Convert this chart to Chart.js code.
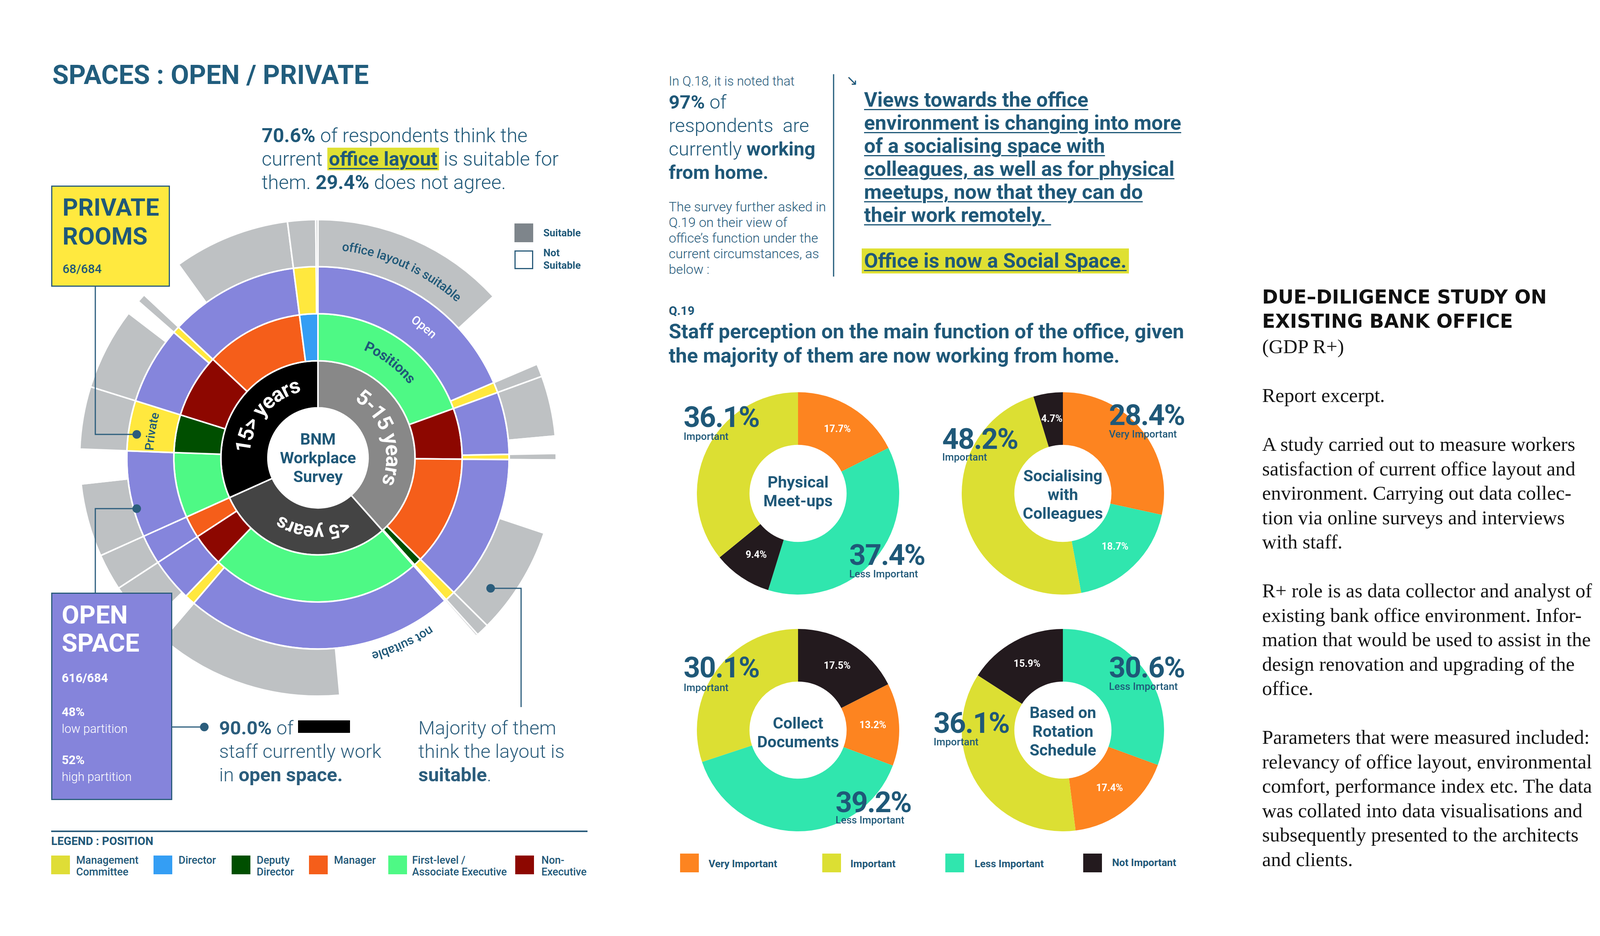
<!DOCTYPE html>
<html>
<head>
<meta charset="utf-8">
<title>Spaces : Open / Private</title>
<script src="https://cdn.jsdelivr.net/npm/chart.js@4.4.1/dist/chart.umd.min.js"></script>
<style>
  html, body { margin: 0; padding: 0; background: #fff; }
  body { width: 4167px; height: 2396px; position: relative; overflow: hidden;
         font-family: Roboto, 'Liberation Sans', sans-serif; color: #1f5878; }
  b { font-weight: 700; }
  .t { position: absolute; white-space: nowrap; z-index: 4; }
  .light { font-weight: 300; }
  .hl { background: #dfe033; padding: 0 4px; }
  .box { position: absolute; box-sizing: border-box; border: 3px solid #2b5d7c; }
  .chartbox { position: absolute; }
  .sq { position: absolute; width: 48px; height: 48px; }
  u { text-decoration-thickness: 3px; text-underline-offset: 6px; }
  .serif { font-family: 'Liberation Serif', 'DejaVu Serif', serif; color: #141414; }
</style>
</head>
<body>

<!-- left: open / private -->
<div class="t" style="left:134px;top:158px;font-size:68px;line-height:68px;font-weight:700;color:#215d7d;">SPACES : OPEN / PRIVATE</div>
<div class="t light" style="left:670px;top:317px;font-size:50px;line-height:60px;">
<b>70.6%</b> of respondents think the<br>current <span class="hl"><b><u>office layout</u></b></span> is suitable for<br>them. <b>29.4%</b> does not agree.</div>

<div class="box" style="left:131px;top:475px;width:304px;height:259px;background:#ffe93f;z-index:3;"></div>
<div class="t" style="left:160px;top:494px;font-size:62px;line-height:74px;font-weight:700;">PRIVATE<br>ROOMS</div>
<div class="t" style="left:160px;top:671px;font-size:31px;line-height:36px;font-weight:500;">68/684</div>

<div class="box" style="left:131px;top:1517px;width:310px;height:531px;background:#8584db;z-index:3;"></div>
<div class="t" style="left:158px;top:1538px;font-size:65px;line-height:72px;font-weight:700;color:#fff;">OPEN<br>SPACE</div>
<div class="t" style="left:158px;top:1718px;font-size:31px;line-height:36px;font-weight:700;color:#fff;">616/684</div>
<div class="t" style="left:158px;top:1801px;font-size:31px;line-height:43px;color:#fff;"><b>48%</b><br><span class="light">low partition</span></div>
<div class="t" style="left:158px;top:1924px;font-size:31px;line-height:43px;color:#fff;"><b>52%</b><br><span class="light">high partition</span></div>

<div class="t light" style="left:561px;top:1834px;font-size:49px;line-height:60px;color:#2b5d7c;">
<b>90.0%</b> of <span style="display:inline-block;width:133px;height:32px;background:#000;vertical-align:4px;"></span><br>staff currently work<br>in <b>open space.</b></div>
<div class="t light" style="left:1071px;top:1834px;font-size:49px;line-height:60px;color:#2b5d7c;">
Majority of them<br>think the layout is<br><b>suitable</b>.</div>

<div class="sq" style="left:1317px;top:572px;background:#7e858b;"></div>
<div class="t" style="left:1391px;top:581px;font-size:26px;line-height:30px;font-weight:700;">Suitable</div>
<div class="sq" style="left:1317px;top:641px;border:3px solid #2b5d7c;box-sizing:border-box;"></div>
<div class="t" style="left:1391px;top:631px;font-size:26px;line-height:32px;font-weight:700;">Not<br>Suitable</div>

<div class="t" style="left:131px;top:2137px;font-size:29px;line-height:32px;font-weight:700;">LEGEND : POSITION</div>
<div class="sq" style="left:131px;top:2190px;background:#dfdd36;"></div>
<div class="t" style="left:195px;top:2187px;font-size:27px;line-height:30px;font-weight:500;">Management<br>Committee</div>
<div class="sq" style="left:393px;top:2190px;background:#349ef4;"></div>
<div class="t" style="left:457px;top:2187px;font-size:27px;line-height:30px;font-weight:500;">Director</div>
<div class="sq" style="left:593px;top:2190px;background:#004f00;"></div>
<div class="t" style="left:657px;top:2187px;font-size:27px;line-height:30px;font-weight:500;">Deputy<br>Director</div>
<div class="sq" style="left:791px;top:2190px;background:#f55e1a;"></div>
<div class="t" style="left:855px;top:2187px;font-size:27px;line-height:30px;font-weight:500;">Manager</div>
<div class="sq" style="left:994px;top:2190px;background:#4ef985;"></div>
<div class="t" style="left:1055px;top:2187px;font-size:27px;line-height:30px;font-weight:500;">First-level /<br>Associate Executive</div>
<div class="sq" style="left:1319px;top:2190px;background:#8d0700;"></div>
<div class="t" style="left:1386px;top:2187px;font-size:27px;line-height:30px;font-weight:500;">Non-<br>Executive</div>

<div class="chartbox" style="left:202px;top:560px;width:1224px;height:1224px;z-index:1;"><canvas id="sunburst"></canvas></div>
<div class="t" style="left:694px;top:1100px;width:240px;text-align:center;font-size:41px;line-height:48px;font-weight:700;">BNM<br>Workplace<br>Survey</div>

<!-- middle: Q.18 / Q.19 -->
<div class="t light" style="left:1712px;top:191px;font-size:33px;line-height:34px;">In Q.18, it is noted that</div>
<div class="t light" style="left:1712px;top:232px;font-size:49px;line-height:60px;">
<b>97%</b> of<br>respondents &nbsp;are<br>currently <b>working</b><br><b>from home.</b></div>
<div class="t light" style="left:1712px;top:509px;font-size:34px;line-height:40px;">
The survey further asked in<br>Q.19 on their view of<br>office’s function under the<br>current circumstances, as<br>below :</div>
<div class="t" style="left:2166px;top:186px;font-size:36px;line-height:40px;">&#8600;</div>
<div class="t" style="left:2212px;top:226px;font-size:52px;line-height:59px;font-weight:700;"><u>Views towards the office</u><br><u>environment is changing into more</u><br><u>of a socialising space with</u><br><u>colleagues, as well as for physical</u><br><u>meetups, now that they can do</u><br><u>their work remotely.&nbsp;</u></div>
<div class="t" style="left:2206px;top:636px;height:64px;padding:0 6px;background:#dfe033;font-size:52px;line-height:64px;font-weight:700;"><u>Office is now a Social Space.</u></div>
<div class="t" style="left:1712px;top:780px;font-size:31px;line-height:32px;font-weight:700;">Q.19</div>
<div class="t" style="left:1712px;top:818px;font-size:52px;line-height:62px;font-weight:700;">
Staff perception on the main function of the office, given<br>the majority of them are now working from home.</div>

<div class="chartbox" style="left:1784px;top:1004px;width:518px;height:518px;z-index:1;"><canvas id="meetups"></canvas></div>
<div class="chartbox" style="left:2462px;top:1004px;width:518px;height:518px;z-index:1;"><canvas id="socialising"></canvas></div>
<div class="chartbox" style="left:1784px;top:1610px;width:518px;height:518px;z-index:1;"><canvas id="documents"></canvas></div>
<div class="chartbox" style="left:2462px;top:1610px;width:518px;height:518px;z-index:1;"><canvas id="rotation"></canvas></div>

<div class="t" style="left:1903px;top:1210px;width:280px;text-align:center;font-size:41px;line-height:48px;font-weight:700;">Physical<br>Meet-ups</div>
<div class="t" style="left:2581px;top:1194px;width:280px;text-align:center;font-size:41px;line-height:48px;font-weight:700;">Socialising<br>with<br>Colleagues</div>
<div class="t" style="left:1903px;top:1827px;width:280px;text-align:center;font-size:41px;line-height:48px;font-weight:700;">Collect<br>Documents</div>
<div class="t" style="left:2581px;top:1800px;width:280px;text-align:center;font-size:41px;line-height:48px;font-weight:700;">Based on<br>Rotation<br>Schedule</div>

<div id="callouts"></div>

<div class="sq" style="left:1741px;top:2185px;background:#fd8420;"></div>
<div class="t" style="left:1814px;top:2196px;font-size:26px;line-height:30px;font-weight:700;">Very Important</div>
<div class="sq" style="left:2105px;top:2185px;background:#dcdf33;"></div>
<div class="t" style="left:2177px;top:2196px;font-size:26px;line-height:30px;font-weight:700;">Important</div>
<div class="sq" style="left:2420px;top:2185px;background:#30e6ae;"></div>
<div class="t" style="left:2495px;top:2196px;font-size:26px;line-height:30px;font-weight:700;">Less Important</div>
<div class="sq" style="left:2773px;top:2185px;background:#231a1e;"></div>
<div class="t" style="left:2847px;top:2193px;font-size:26px;line-height:30px;font-weight:700;">Not Important</div>

<!-- right column -->
<div class="t" style="left:3231px;top:730px;font-family:'DejaVu Sans',sans-serif;font-size:49px;line-height:62px;font-weight:700;color:#111;">DUE–DILIGENCE STUDY ON<br>EXISTING BANK OFFICE</div>
<div class="t serif" style="left:3231px;top:856px;font-size:51px;line-height:62.5px;">
(GDP R+)<br><br>Report excerpt.<br><br>
A study carried out to measure workers<br>satisfaction of current office layout and<br>environment. Carrying out data collec-<br>tion via online surveys and interviews<br>with staff.<br><br>
R+ role is as data collector and analyst of<br>existing bank office environment. Infor-<br>mation that would be used to assist in the<br>design renovation and upgrading of the<br>office.<br><br>
Parameters that were measured included:<br>relevancy of office layout, environmental<br>comfort, performance index etc. The data<br>was collated into data visualisations and<br>subsequently presented to the architects<br>and clients.</div>

<svg width="4167" height="2396" style="position:absolute;left:0;top:0;z-index:5;pointer-events:none;">
  <g stroke="#2b5d7c" stroke-width="3" fill="none">
    <polyline points="244,734 244,1112 350,1112"/>
    <polyline points="244,1517 244,1302 350,1302"/>
    <polyline points="441,1861 523,1861"/>
    <polyline points="1256,1506 1334,1506 1334,1810"/>
    <line x1="2134" y1="190" x2="2134" y2="708" stroke="#1f5878"/>
    <line x1="131" y1="2128" x2="1504" y2="2128" stroke-width="4"/>
  </g>
  <g fill="#2b5d7c">
    <circle cx="350" cy="1112" r="11"/>
    <circle cx="350" cy="1302" r="11"/>
    <circle cx="523" cy="1861" r="11"/>
    <circle cx="1256" cy="1506" r="11"/>
  </g>
</svg>

<script>
// ---- sunburst data (respondents, total 684) ----
const tenureLabels = ['5-15 years', '<5 years', '15> years'];
const tenureCounts = [263, 204, 217];

const positionKinds = ['First-level', 'Non-Executive', 'Manager', 'Deputy Director', 'Director',
                       'First-level', 'Non-Executive', 'Manager',
                       'First-level', 'Deputy Director', 'Non-Executive', 'Manager', 'Director'];
const positionCounts = [133, 39, 84, 6, 1, 162, 25, 17, 50, 29, 49, 75, 14];

const spaceKinds = ['Open', 'Private', 'Open', 'Private', 'Open', 'Private', 'Private',
                    'Open', 'Private', 'Open', 'Open',
                    'Open', 'Private', 'Open', 'Private', 'Open', 'Private', 'Open'];
const spaceCounts = [127, 6, 36, 3, 84, 6, 1, 156, 6, 25, 17, 50, 29, 45, 4, 75, 13, 1];

const layoutKinds = ['Suitable', 'Not', 'Suitable', 'Suitable', 'Not', 'Suitable', 'Not', 'Suitable', 'Suitable', 'Suitable',
                     'Not', 'Suitable', 'Not', 'Not', 'Suitable', 'Suitable',
                     'Suitable', 'Not', 'Suitable', 'Suitable', 'Not', 'Suitable', 'Not', 'Suitable', 'Suitable', 'Suitable'];
const layoutCounts = [90, 37, 6, 28, 8, 3, 34, 50, 6, 1, 69, 87, 6, 3, 22, 17, 34, 16, 29, 38, 7, 4, 21, 54, 13, 1];

// ---- Q.19 doughnut data (%) ----
const meetupsOrder = ['Very Important', 'Less Important', 'Not Important', 'Important'];
const meetupsValues = [17.7, 37.4, 9.4, 36.1];
const socialisingOrder = ['Very Important', 'Less Important', 'Important', 'Not Important'];
const socialisingValues = [28.4, 18.7, 48.2, 4.7];
const documentsOrder = ['Not Important', 'Very Important', 'Less Important', 'Important'];
const documentsValues = [17.5, 13.2, 39.2, 30.1];
const rotationOrder = ['Less Important', 'Very Important', 'Important', 'Not Important'];
const rotationValues = [30.6, 17.4, 36.1, 15.9];

// ---- styles ----
const darkBlue = '#1f5878';
const tenureColors = { '5-15 years': '#888888', '<5 years': '#444444', '15> years': '#000000' };
const positionColors = { 'First-level': '#4ef985', 'Non-Executive': '#8d0700', 'Manager': '#f55e1a',
                         'Deputy Director': '#004f00', 'Director': '#349ef4' };
const spaceColors = { 'Open': '#8585dc', 'Private': '#ffe83e' };
const layoutColors = { 'Suitable': '#bec1c3', 'Not': '#ffffff' };
const levelColors = { 'Very Important': '#fd8420', 'Important': '#dcdf33',
                      'Less Important': '#30e6ae', 'Not Important': '#231a1e' };

// curved labels on the rings (dataset index 0 = outermost)
const ringLabels = [
  { ring: 3, text: '5-15 years', at: 72, font: 'bold 54px Roboto', color: '#fff' },
  { ring: 3, text: '<5 years', at: 184, font: 'bold 50px Roboto', color: '#fff' },
  { ring: 3, text: '15> years', at: 310, font: 'bold 54px Roboto', color: '#fff' },
  { ring: 2, text: 'Positions', at: 37, font: 'bold 36px Roboto', color: darkBlue },
  { ring: 1, text: 'Open', at: 39, font: '500 31px Roboto', color: '#fff' },
  { ring: 1, text: 'Private', at: 279, font: '500 31px Roboto', color: darkBlue },
  { ring: 0, text: 'office layout is suitable', at: 24, font: '500 32px Roboto', color: darkBlue, dr: -8 },
  { ring: 0, text: 'not suitable', at: 155.5, font: '500 32px Roboto', color: darkBlue, dr: -25 },
];

function drawArcText(ctx, text, cx, cy, r, centerDeg) {
  const total = ctx.measureText(text).width;
  let a = (centerDeg - 90) * Math.PI / 180 - total / r / 2;
  for (const ch of text) {
    const w = ctx.measureText(ch).width;
    const ang = a + w / 2 / r;
    ctx.save();
    ctx.translate(cx + r * Math.cos(ang), cy + r * Math.sin(ang));
    ctx.rotate(ang + Math.PI / 2);
    ctx.fillText(ch, 0, 0);
    ctx.restore();
    a += w / r;
  }
}

const ringTextPlugin = {
  id: 'ringText',
  afterDatasetsDraw(chart) {
    const ctx = chart.ctx;
    ringLabels.forEach((l) => {
      const arc = chart.getDatasetMeta(l.ring).data[0];
      const r = (arc.innerRadius + arc.outerRadius) / 2 + (l.dr || 0);
      ctx.save();
      ctx.font = l.font;
      ctx.fillStyle = l.color;
      ctx.textAlign = 'center';
      ctx.textBaseline = 'middle';
      drawArcText(ctx, l.text, arc.x, arc.y, r, l.at);
      ctx.restore();
    });
  },
};

const ring = (data, kinds, colors) => ({
  data: data,
  backgroundColor: kinds.map((k) => colors[k]),
  borderColor: '#ffffff',
  borderWidth: 4,
});

new Chart(document.getElementById('sunburst'), {
  type: 'doughnut',
  data: {
    datasets: [
      ring(layoutCounts, layoutKinds, layoutColors),
      ring(spaceCounts, spaceKinds, spaceColors),
      ring(positionCounts, positionKinds, positionColors),
      ring(tenureCounts, tenureLabels, tenureColors),
    ],
  },
  options: {
    responsive: true,
    maintainAspectRatio: false,
    animation: false,
    events: [],
    cutout: '21%',
    plugins: { legend: { display: false }, tooltip: { enabled: false } },
  },
  plugins: [ringTextPlugin],
});

// ---- Q.19 doughnuts ----
// big callouts drawn outside the slice; the other slices get a small white label
const callouts = {
  meetups: { 'Important': [1750, 1068, 1117], 'Less Important': [2174, 1421, 1469] },
  socialising: { 'Important': [2412, 1124, 1170], 'Very Important': [2839, 1063, 1111] },
  documents: { 'Important': [1750, 1709, 1760], 'Less Important': [2139, 2054, 2099] },
  rotation: { 'Important': [2390, 1851, 1899], 'Less Important': [2839, 1709, 1757] },
};

const sliceTextPlugin = {
  id: 'sliceText',
  afterDatasetsDraw(chart) {
    const ctx = chart.ctx;
    const order = chart.data.labels;
    const skip = callouts[chart.canvas.id];
    chart.getDatasetMeta(0).data.forEach((arc, i) => {
      if (skip[order[i]]) return;
      const p = arc.tooltipPosition();
      ctx.save();
      ctx.font = 'bold 25px Roboto';
      ctx.fillStyle = '#ffffff';
      ctx.textAlign = 'center';
      ctx.textBaseline = 'middle';
      ctx.fillText(chart.data.datasets[0].data[i].toFixed(1) + '%', p.x, p.y);
      ctx.restore();
    });
  },
};

const donut = (id, order, values) => {
  new Chart(document.getElementById(id), {
    type: 'doughnut',
    data: {
      labels: order,
      datasets: [{ data: values, backgroundColor: order.map((k) => levelColors[k]), borderWidth: 0 }],
    },
    options: {
      responsive: true,
      maintainAspectRatio: false,
      animation: false,
      events: [],
      cutout: '48%',
      plugins: { legend: { display: false }, tooltip: { enabled: false } },
    },
    plugins: [sliceTextPlugin],
  });
  const holder = document.getElementById('callouts');
  Object.entries(callouts[id]).forEach(([level, pos]) => {
    const v = values[order.indexOf(level)];
    const big = document.createElement('div');
    big.className = 't';
    big.style.cssText = `left:${pos[0]}px;top:${pos[1] - 42}px;font-size:74px;line-height:84px;font-weight:700;letter-spacing:-2px;`;
    big.textContent = v.toFixed(1) + '%';
    const small = document.createElement('div');
    small.className = 't';
    small.style.cssText = `left:${pos[0]}px;top:${pos[2] - 14}px;font-size:26px;line-height:28px;font-weight:500;`;
    small.textContent = level;
    holder.appendChild(big);
    holder.appendChild(small);
  });
};

donut('meetups', meetupsOrder, meetupsValues);
donut('socialising', socialisingOrder, socialisingValues);
donut('documents', documentsOrder, documentsValues);
donut('rotation', rotationOrder, rotationValues);
</script>
</body>
</html>
